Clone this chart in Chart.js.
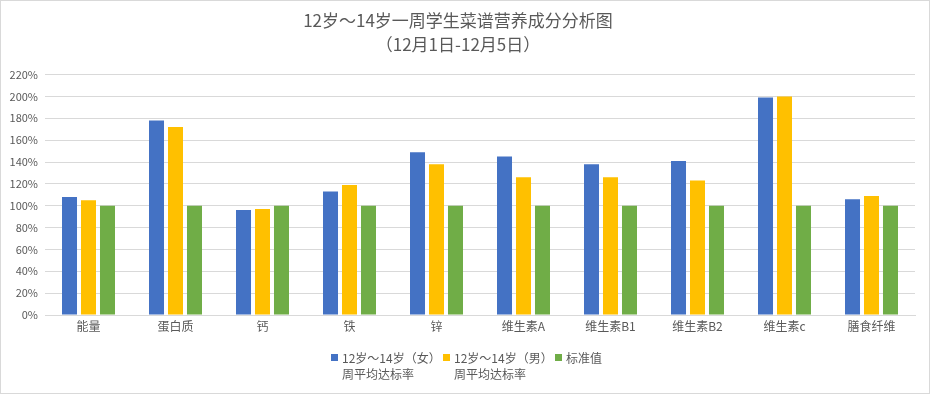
<!DOCTYPE html>
<html>
<head>
<meta charset="utf-8">
<script src="https://cdn.jsdelivr.net/npm/chart.js@4/dist/chart.umd.min.js"></script>
<style>
  html, body { margin: 0; padding: 0; background: #fff; }
  #wrap { position: relative; width: 928px; height: 392px; border: 1px solid #d9d9d9; overflow: hidden; }
  #legend { position: absolute; left: 0; top: 349px; width: 100%; font: 12px "Noto Sans CJK SC", sans-serif; color: #595959; }
  .item { position: absolute; top: 0; line-height: 16px; }
  .box { position: absolute; left: -11px; top: 4px; width: 7px; height: 7px; }
</style>
</head>
<body>
<div id="wrap">
  <canvas id="chart" width="928" height="392"></canvas>
  <div id="legend"></div>
</div>
<script>
  // categories and values (percent of standard)
  const categories = ['能量', '蛋白质', '钙', '铁', '锌', '维生素A', '维生素B1', '维生素B2', '维生素c', '膳食纤维'];
  const girls = [108, 178, 96, 113, 149, 145, 138, 141, 199, 106];
  const boys = [105, 172, 97, 119, 138, 126, 126, 123, 200, 109];
  const standard = [100, 100, 100, 100, 100, 100, 100, 100, 100, 100];
  const seriesNames = [['12岁～14岁（女）', '周平均达标率'], ['12岁～14岁（男）', '周平均达标率'], ['标准值']];
  const titleLines = ['12岁～14岁一周学生菜谱营养成分分析图', '（12月1日-12月5日）'];

  const colors = ['#4472C4', '#FFC000', '#70AD47'];
  const font = '"Noto Sans CJK SC", sans-serif';
  const textColor = '#595959';

  new Chart(document.getElementById('chart'), {
    type: 'bar',
    data: {
      labels: categories,
      datasets: [girls, boys, standard].map((d, i) => ({
        label: seriesNames[i].join(''),
        data: d,
        backgroundColor: colors[i],
        barPercentage: 0.79,
        categoryPercentage: 0.655
      }))
    },
    options: {
      responsive: false,
      animation: false,
      layout: { padding: { left: 0, right: 14, top: 8, bottom: 58 } },
      plugins: {
        legend: { display: false },
        tooltip: { enabled: false },
        title: {
          display: true,
          text: titleLines,
          color: textColor,
          font: { family: font, size: 17, weight: 'normal', lineHeight: 1.4 },
          padding: { top: 0, bottom: 18 }
        }
      },
      scales: {
        x: {
          grid: { display: false, drawTicks: false },
          border: { color: '#d9d9d9' },
          ticks: { color: textColor, font: { family: font, size: 12 }, padding: 4 },
          afterFit: s => { s.height = 20; }
        },
        y: {
          min: 0,
          max: 220,
          grid: { color: '#d9d9d9', drawTicks: false },
          border: { display: false },
          ticks: {
            stepSize: 20,
            color: textColor,
            font: { family: font, size: 11 },
            padding: 7,
            callback: v => v + '%'
          },
          afterFit: s => { s.width = 44; }
        }
      }
    }
  });

  // legend with two-line labels
  const legend = document.getElementById('legend');
  const legendX = [341, 453, 565];
  seriesNames.forEach((lines, i) => {
    const el = document.createElement('div');
    el.className = 'item';
    el.style.left = legendX[i] + 'px';
    el.innerHTML = '<span class="box" style="background:' + colors[i] + '"></span>' + lines.join('<br>');
    legend.appendChild(el);
  });
</script>
</body>
</html>
